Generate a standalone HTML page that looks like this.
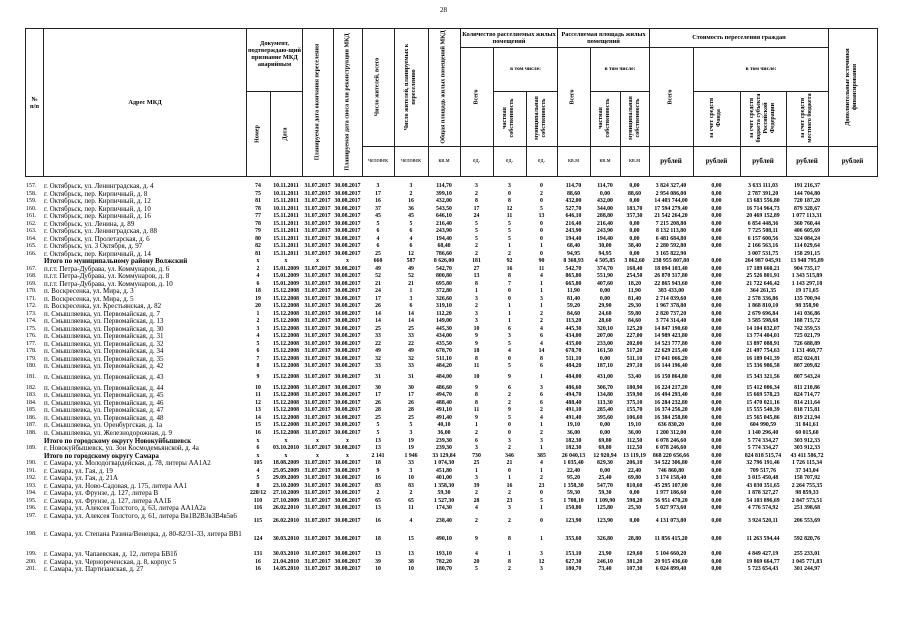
<!DOCTYPE html>
<html><head><meta charset="utf-8">
<style>
body{margin:0;background:#fff;}
#p{position:relative;width:905px;height:640px;overflow:hidden;background:#fff;font-family:"Liberation Serif",serif;color:#000;}
.r{position:absolute;left:0;width:905px;height:8px;font-size:5.8px;line-height:8px;font-weight:bold;}
.r span{position:absolute;top:0;text-align:center;white-space:nowrap;}
.r .n{left:26px;width:18px;text-align:left;font-size:6px;font-weight:normal;}
.r .a{left:44px;width:200px;text-align:left;font-size:7px;font-weight:normal;}
.r .t{left:44px;width:200px;text-align:left;font-size:7px;font-weight:bold;}
.c1{left:246px;width:24px}.c2{left:270px;width:32px}.c3{left:302px;width:31px}.c4{left:333px;width:29px}
.c5{left:362px;width:32px}.c6{left:394px;width:34px}.c7{left:428px;width:32px}.c8{left:460px;width:33px}
.c9{left:493px;width:33px}.c10{left:526px;width:31px}.c11{left:557px;width:33px}.c12{left:590px;width:30px}
.c13{left:620px;width:29px}.c14{left:649px;width:44px}.c15{left:693px;width:47px}.c16{left:740px;width:46px}.c17{left:786px;width:42px}
.b{font-weight:bold}
.h{position:absolute;font-size:6.3px;font-weight:bold;text-align:center;line-height:7px;}
.v{position:absolute;transform:translate(-50%,-50%) rotate(-90deg);font-size:6px;font-weight:bold;text-align:center;line-height:7px;}
.u{position:absolute;font-size:6px;text-align:center;line-height:8px;}
</style></head><body><div id="p">
<div style="position:absolute;left:440px;top:6px;font-size:7px;">28</div>
<svg width="905" height="640" style="position:absolute;left:0;top:0" stroke="#222" stroke-width="1">
<rect x="25.5" y="28.5" width="852" height="148" fill="none"/>
<g>
<line x1="43.5" y1="28" x2="43.5" y2="177"/><line x1="246.5" y1="28" x2="246.5" y2="177"/>
<line x1="302.5" y1="28" x2="302.5" y2="177"/><line x1="333.5" y1="28" x2="333.5" y2="177"/>
<line x1="362.5" y1="28" x2="362.5" y2="177"/><line x1="394.5" y1="28" x2="394.5" y2="177"/>
<line x1="428.5" y1="28" x2="428.5" y2="177"/><line x1="460.5" y1="28" x2="460.5" y2="177"/>
<line x1="557.5" y1="28" x2="557.5" y2="177"/><line x1="649.5" y1="28" x2="649.5" y2="177"/>
<line x1="828.5" y1="28" x2="828.5" y2="177"/>
<line x1="270.5" y1="91" x2="270.5" y2="177"/><line x1="246" y1="91.5" x2="302" y2="91.5"/>
<line x1="460" y1="47.5" x2="828" y2="47.5"/>
<line x1="493.5" y1="47" x2="493.5" y2="177"/><line x1="526.5" y1="91" x2="526.5" y2="177"/>
<line x1="590.5" y1="47" x2="590.5" y2="177"/><line x1="620.5" y1="91" x2="620.5" y2="177"/>
<line x1="693.5" y1="47" x2="693.5" y2="177"/><line x1="740.5" y1="91" x2="740.5" y2="177"/>
<line x1="786.5" y1="91" x2="786.5" y2="177"/>
<line x1="493" y1="91.5" x2="557" y2="91.5"/><line x1="590" y1="91.5" x2="649" y2="91.5"/><line x1="693" y1="91.5" x2="828" y2="91.5"/>
<line x1="362" y1="146.5" x2="877" y2="146.5"/>
</g></svg>
<div class="h" style="left:26px;top:96px;width:17px;">№<br>п/п</div>
<div class="h" style="left:44px;top:99px;width:202px;">Адрес МКД</div>
<div class="h" style="left:247px;top:40px;width:55px;">Документ, подтверждаю-щий признание МКД аварийным</div>
<div class="v" style="left:258px;top:134px;width:80px;">Номер</div>
<div class="v" style="left:286px;top:134px;width:80px;">Дата</div>
<div class="v" style="left:318px;top:102px;width:144px;">Планируемая дата окончания переселения</div>
<div class="v" style="left:348px;top:102px;width:144px;">Планируемая дата сноса или реконструкции МКД</div>
<div class="v" style="left:378px;top:87px;width:114px;">Число жителей, всего</div>
<div class="v" style="left:411px;top:87px;width:114px;">Число жителей, планируемых к переселению</div>
<div class="v" style="left:444px;top:87px;width:114px;">Общая площадь жилых помещений МКД</div>
<div class="h" style="left:461px;top:31px;width:96px;">Количество расселяемых жилых помещений</div>
<div class="h" style="left:558px;top:31px;width:91px;">Расселяемая площадь жилых помещений</div>
<div class="h" style="left:650px;top:34px;width:178px;">Стоимость переселения граждан</div>
<div class="v" style="left:477px;top:97px;width:95px;">Всего</div>
<div class="v" style="left:573px;top:97px;width:95px;">Всего</div>
<div class="v" style="left:671px;top:97px;width:95px;">Всего</div>
<div class="h" style="left:494px;top:66px;width:63px;font-size:5.5px;">в том числе:</div>
<div class="h" style="left:591px;top:66px;width:58px;font-size:5.5px;">в том числе:</div>
<div class="h" style="left:694px;top:66px;width:134px;font-size:5.5px;">в том числе:</div>
<div class="v" style="left:509px;top:118px;width:52px;">частная собственность</div>
<div class="v" style="left:541px;top:118px;width:52px;">муниципальная собственность</div>
<div class="v" style="left:605px;top:118px;width:52px;">частная собственность</div>
<div class="v" style="left:635px;top:118px;width:52px;">муниципальная собственность</div>
<div class="v" style="left:716px;top:118px;width:52px;">за счет средств Фонда</div>
<div class="v" style="left:763px;top:118px;width:52px;">за счет средств бюджета субъекта Российской Федерации</div>
<div class="v" style="left:807px;top:118px;width:52px;">за счет средств местного бюджета</div>
<div class="v" style="left:852px;top:87px;width:114px;">Дополнительные источники финансирования</div>
<div class="u" style="left:362px;top:157px;width:32px;">человек</div>
<div class="u" style="left:394px;top:157px;width:34px;">человек</div>
<div class="u" style="left:428px;top:157px;width:32px;">кв.м</div>
<div class="u" style="left:460px;top:157px;width:33px;">ед.</div>
<div class="u" style="left:493px;top:157px;width:33px;">ед.</div>
<div class="u" style="left:526px;top:157px;width:31px;">ед.</div>
<div class="u" style="left:557px;top:157px;width:33px;">кв.м</div>
<div class="u" style="left:590px;top:157px;width:30px;">кв.м</div>
<div class="u" style="left:620px;top:157px;width:29px;">кв.м</div>
<div class="u" style="left:649px;top:157px;width:44px;font-size:7px;font-weight:bold;">рублей</div>
<div class="u" style="left:693px;top:157px;width:47px;font-size:7px;font-weight:bold;">рублей</div>
<div class="u" style="left:740px;top:157px;width:46px;font-size:7px;font-weight:bold;">рублей</div>
<div class="u" style="left:786px;top:157px;width:42px;font-size:7px;font-weight:bold;">рублей</div>
<div class="u" style="left:828px;top:157px;width:49px;font-size:7px;font-weight:bold;">рублей</div>

<div class="r" style="top:182px"><span class="n">157.</span><span class="a">г. Октябрьск, ул. Ленинградская, д. 4</span><span class="c1">74</span><span class="c2">10.11.2011</span><span class="c3">31.07.2017</span><span class="c4">30.08.2017</span><span class="c5">3</span><span class="c6">3</span><span class="c7">114,70</span><span class="c8">3</span><span class="c9">3</span><span class="c10">0</span><span class="c11">114,70</span><span class="c12">114,70</span><span class="c13">0,00</span><span class="c14">3 824 327,40</span><span class="c15">0,00</span><span class="c16">3 633 111,03</span><span class="c17">191 216,37</span></div>
<div class="r" style="top:189.5px"><span class="n">158.</span><span class="a">г. Октябрьск, пер. Кирпичный, д. 8</span><span class="c1">75</span><span class="c2">10.11.2011</span><span class="c3">31.07.2017</span><span class="c4">30.08.2017</span><span class="c5">17</span><span class="c6">2</span><span class="c7">399,10</span><span class="c8">2</span><span class="c9">0</span><span class="c10">2</span><span class="c11">88,60</span><span class="c12">0,00</span><span class="c13">88,60</span><span class="c14">2 954 086,00</span><span class="c15">0,00</span><span class="c16">2 787 391,20</span><span class="c17">144 704,80</span></div>
<div class="r" style="top:197px"><span class="n">159.</span><span class="a">г. Октябрьск, пер. Кирпичный, д. 12</span><span class="c1">81</span><span class="c2">15.11.2011</span><span class="c3">31.07.2017</span><span class="c4">30.08.2017</span><span class="c5">16</span><span class="c6">16</span><span class="c7">432,00</span><span class="c8">8</span><span class="c9">8</span><span class="c10">0</span><span class="c11">432,00</span><span class="c12">432,00</span><span class="c13">0,00</span><span class="c14">14 403 744,00</span><span class="c15">0,00</span><span class="c16">13 683 556,80</span><span class="c17">720 187,20</span></div>
<div class="r" style="top:204.5px"><span class="n">160.</span><span class="a">г. Октябрьск, пер. Кирпичный, д. 10</span><span class="c1">78</span><span class="c2">10.11.2011</span><span class="c3">31.07.2017</span><span class="c4">30.08.2017</span><span class="c5">37</span><span class="c6">36</span><span class="c7">543,50</span><span class="c8">17</span><span class="c9">12</span><span class="c10">5</span><span class="c11">527,70</span><span class="c12">344,00</span><span class="c13">183,70</span><span class="c14">17 594 279,40</span><span class="c15">0,00</span><span class="c16">16 714 964,73</span><span class="c17">879 328,67</span></div>
<div class="r" style="top:212px"><span class="n">161.</span><span class="a">г. Октябрьск, пер. Кирпичный, д. 16</span><span class="c1">77</span><span class="c2">15.11.2011</span><span class="c3">31.07.2017</span><span class="c4">30.08.2017</span><span class="c5">45</span><span class="c6">45</span><span class="c7">646,10</span><span class="c8">24</span><span class="c9">11</span><span class="c10">13</span><span class="c11">646,10</span><span class="c12">288,80</span><span class="c13">357,30</span><span class="c14">21 542 264,20</span><span class="c15">0,00</span><span class="c16">20 469 152,89</span><span class="c17">1 077 113,31</span></div>
<div class="r" style="top:219.5px"><span class="n">162.</span><span class="a">г. Октябрьск, ул. Ленина, д. 89</span><span class="c1">78</span><span class="c2">15.11.2011</span><span class="c3">31.07.2017</span><span class="c4">30.08.2017</span><span class="c5">5</span><span class="c6">5</span><span class="c7">216,40</span><span class="c8">5</span><span class="c9">5</span><span class="c10">0</span><span class="c11">216,40</span><span class="c12">216,40</span><span class="c13">0,00</span><span class="c14">7 215 208,80</span><span class="c15">0,00</span><span class="c16">6 854 448,36</span><span class="c17">360 760,44</span></div>
<div class="r" style="top:227px"><span class="n">163.</span><span class="a">г. Октябрьск, ул. Ленинградская, д. 88</span><span class="c1">79</span><span class="c2">15.11.2011</span><span class="c3">31.07.2017</span><span class="c4">30.08.2017</span><span class="c5">6</span><span class="c6">6</span><span class="c7">243,90</span><span class="c8">5</span><span class="c9">5</span><span class="c10">0</span><span class="c11">243,90</span><span class="c12">243,90</span><span class="c13">0,00</span><span class="c14">8 132 113,80</span><span class="c15">0,00</span><span class="c16">7 725 508,11</span><span class="c17">406 605,69</span></div>
<div class="r" style="top:234.5px"><span class="n">164.</span><span class="a">г. Октябрьск, ул. Пролетарская, д. 6</span><span class="c1">80</span><span class="c2">15.11.2011</span><span class="c3">31.07.2017</span><span class="c4">30.08.2017</span><span class="c5">4</span><span class="c6">4</span><span class="c7">194,40</span><span class="c8">5</span><span class="c9">5</span><span class="c10">0</span><span class="c11">194,40</span><span class="c12">194,40</span><span class="c13">0,00</span><span class="c14">6 481 684,80</span><span class="c15">0,00</span><span class="c16">6 157 600,56</span><span class="c17">324 084,24</span></div>
<div class="r" style="top:242px"><span class="n">165.</span><span class="a">г. Октябрьск, ул. 3 Октября, д. 97</span><span class="c1">82</span><span class="c2">15.11.2011</span><span class="c3">31.07.2017</span><span class="c4">30.08.2017</span><span class="c5">6</span><span class="c6">6</span><span class="c7">68,40</span><span class="c8">2</span><span class="c9">1</span><span class="c10">1</span><span class="c11">68,40</span><span class="c12">30,00</span><span class="c13">38,40</span><span class="c14">2 280 592,80</span><span class="c15">0,00</span><span class="c16">2 166 563,16</span><span class="c17">114 029,64</span></div>
<div class="r" style="top:249.5px"><span class="n">166.</span><span class="a">г. Октябрьск, пер. Кирпичный, д. 14</span><span class="c1">81</span><span class="c2">15.11.2011</span><span class="c3">31.07.2017</span><span class="c4">30.08.2017</span><span class="c5">25</span><span class="c6">12</span><span class="c7">786,60</span><span class="c8">2</span><span class="c9">2</span><span class="c10">0</span><span class="c11">94,95</span><span class="c12">94,95</span><span class="c13">0,00</span><span class="c14">3 165 822,90</span><span class="c16">3 007 531,75</span><span class="c17">158 291,15</span></div>
<div class="r b" style="top:257px"><span class="t">Итого по муниципальному району Волжский</span><span class="c1">x</span><span class="c2">x</span><span class="c3">x</span><span class="c4">x</span><span class="c5">660</span><span class="c6">587</span><span class="c7">8 626,00</span><span class="c8">181</span><span class="c9">92</span><span class="c10">90</span><span class="c11">8 368,93</span><span class="c12">4 505,85</span><span class="c13">3 862,60</span><span class="c14">238 955 807,80</span><span class="c15">0,00</span><span class="c16">264 987 045,91</span><span class="c17">13 948 795,89</span></div>
<div class="r" style="top:264.5px"><span class="n">167.</span><span class="a">п.г.т. Петра-Дубрава, ул. Коммунаров, д. 6</span><span class="c1">2</span><span class="c2">15.01.2009</span><span class="c3">31.07.2017</span><span class="c4">30.08.2017</span><span class="c5">49</span><span class="c6">49</span><span class="c7">542,70</span><span class="c8">27</span><span class="c9">16</span><span class="c10">11</span><span class="c11">542,70</span><span class="c12">374,70</span><span class="c13">168,40</span><span class="c14">18 094 103,40</span><span class="c15">0,00</span><span class="c16">17 189 660,21</span><span class="c17">904 735,17</span></div>
<div class="r" style="top:272px"><span class="n">168.</span><span class="a">п.г.т. Петра-Дубрава, ул. Коммунаров, д. 8</span><span class="c1">4</span><span class="c2">15.01.2009</span><span class="c3">31.07.2017</span><span class="c4">30.08.2017</span><span class="c5">52</span><span class="c6">52</span><span class="c7">800,80</span><span class="c8">13</span><span class="c9">8</span><span class="c10">4</span><span class="c11">865,80</span><span class="c12">551,90</span><span class="c13">254,50</span><span class="c14">26 870 317,80</span><span class="c15">0,00</span><span class="c16">25 526 801,91</span><span class="c17">1 343 515,89</span></div>
<div class="r" style="top:279.5px"><span class="n">169.</span><span class="a">п.г.т. Петра-Дубрава, ул. Коммунаров, д. 10</span><span class="c1">6</span><span class="c2">15.01.2009</span><span class="c3">31.07.2017</span><span class="c4">30.08.2017</span><span class="c5">21</span><span class="c6">21</span><span class="c7">695,80</span><span class="c8">8</span><span class="c9">7</span><span class="c10">1</span><span class="c11">665,80</span><span class="c12">407,60</span><span class="c13">18,20</span><span class="c14">22 865 943,60</span><span class="c15">0,00</span><span class="c16">21 722 646,42</span><span class="c17">1 143 297,18</span></div>
<div class="r" style="top:287px"><span class="n">170.</span><span class="a">п. Воскресенка, ул. Мира, д. 3</span><span class="c1">18</span><span class="c2">15.12.2008</span><span class="c3">31.07.2017</span><span class="c4">30.08.2017</span><span class="c5">24</span><span class="c6">1</span><span class="c7">372,80</span><span class="c8">1</span><span class="c9">0</span><span class="c10">1</span><span class="c11">11,90</span><span class="c12">0,00</span><span class="c13">11,90</span><span class="c14">383 433,00</span><span class="c15">0,00</span><span class="c16">364 261,35</span><span class="c17">19 171,65</span></div>
<div class="r" style="top:294.5px"><span class="n">171.</span><span class="a">п. Воскресенка, ул. Мира, д. 5</span><span class="c1">19</span><span class="c2">15.12.2008</span><span class="c3">31.07.2017</span><span class="c4">30.08.2017</span><span class="c5">17</span><span class="c6">3</span><span class="c7">326,60</span><span class="c8">3</span><span class="c9">0</span><span class="c10">3</span><span class="c11">81,40</span><span class="c12">0,00</span><span class="c13">81,40</span><span class="c14">2 714 039,60</span><span class="c15">0,00</span><span class="c16">2 578 336,86</span><span class="c17">135 700,94</span></div>
<div class="r" style="top:302px"><span class="n">172.</span><span class="a">п. Воскресенка, ул. Крестьянская, д. 82</span><span class="c1">20</span><span class="c2">15.12.2008</span><span class="c3">31.07.2017</span><span class="c4">30.08.2017</span><span class="c5">26</span><span class="c6">6</span><span class="c7">319,10</span><span class="c8">2</span><span class="c9">1</span><span class="c10">1</span><span class="c11">59,20</span><span class="c12">29,90</span><span class="c13">29,30</span><span class="c14">1 967 378,80</span><span class="c15">0,00</span><span class="c16">1 868 810,10</span><span class="c17">98 358,90</span></div>
<div class="r" style="top:309.5px"><span class="n">173.</span><span class="a">п. Смышляевка, ул. Первомайская, д. 7</span><span class="c1">1</span><span class="c2">15.12.2008</span><span class="c3">31.07.2017</span><span class="c4">30.08.2017</span><span class="c5">14</span><span class="c6">14</span><span class="c7">112,20</span><span class="c8">3</span><span class="c9">1</span><span class="c10">2</span><span class="c11">84,60</span><span class="c12">24,60</span><span class="c13">59,80</span><span class="c14">2 820 737,20</span><span class="c15">0,00</span><span class="c16">2 679 696,84</span><span class="c17">141 036,86</span></div>
<div class="r" style="top:317px"><span class="n">174.</span><span class="a">п. Смышляевка, ул. Первомайская, д. 13</span><span class="c1">2</span><span class="c2">15.12.2008</span><span class="c3">31.07.2017</span><span class="c4">30.08.2017</span><span class="c5">14</span><span class="c6">14</span><span class="c7">149,00</span><span class="c8">3</span><span class="c9">1</span><span class="c10">2</span><span class="c11">113,20</span><span class="c12">28,60</span><span class="c13">84,60</span><span class="c14">3 774 314,40</span><span class="c15">0,00</span><span class="c16">3 585 598,68</span><span class="c17">188 715,72</span></div>
<div class="r" style="top:324.5px"><span class="n">175.</span><span class="a">п. Смышляевка, ул. Первомайская, д. 30</span><span class="c1">3</span><span class="c2">15.12.2008</span><span class="c3">31.07.2017</span><span class="c4">30.08.2017</span><span class="c5">25</span><span class="c6">25</span><span class="c7">445,30</span><span class="c8">10</span><span class="c9">6</span><span class="c10">4</span><span class="c11">445,30</span><span class="c12">320,10</span><span class="c13">125,20</span><span class="c14">14 847 190,60</span><span class="c15">0,00</span><span class="c16">14 104 832,07</span><span class="c17">742 359,53</span></div>
<div class="r" style="top:332px"><span class="n">176.</span><span class="a">п. Смышляевка, ул. Первомайская, д. 31</span><span class="c1">4</span><span class="c2">15.12.2008</span><span class="c3">31.07.2017</span><span class="c4">30.08.2017</span><span class="c5">33</span><span class="c6">33</span><span class="c7">434,00</span><span class="c8">9</span><span class="c9">3</span><span class="c10">6</span><span class="c11">434,00</span><span class="c12">207,00</span><span class="c13">227,00</span><span class="c14">14 989 423,80</span><span class="c15">0,00</span><span class="c16">13 774 404,01</span><span class="c17">725 021,79</span></div>
<div class="r" style="top:339.5px"><span class="n">177.</span><span class="a">п. Смышляевка, ул. Первомайская, д. 32</span><span class="c1">5</span><span class="c2">15.12.2008</span><span class="c3">31.07.2017</span><span class="c4">30.08.2017</span><span class="c5">22</span><span class="c6">22</span><span class="c7">435,50</span><span class="c8">9</span><span class="c9">5</span><span class="c10">4</span><span class="c11">435,00</span><span class="c12">233,00</span><span class="c13">202,00</span><span class="c14">14 523 777,80</span><span class="c15">0,00</span><span class="c16">13 897 088,91</span><span class="c17">726 688,89</span></div>
<div class="r" style="top:347px"><span class="n">178.</span><span class="a">п. Смышляевка, ул. Первомайская, д. 34</span><span class="c1">6</span><span class="c2">15.12.2008</span><span class="c3">31.07.2017</span><span class="c4">30.08.2017</span><span class="c5">49</span><span class="c6">49</span><span class="c7">678,70</span><span class="c8">18</span><span class="c9">4</span><span class="c10">14</span><span class="c11">678,70</span><span class="c12">161,50</span><span class="c13">517,20</span><span class="c14">22 629 215,40</span><span class="c15">0,00</span><span class="c16">21 497 754,63</span><span class="c17">1 131 460,77</span></div>
<div class="r" style="top:354.5px"><span class="n">179.</span><span class="a">п. Смышляевка, ул. Первомайская, д. 35</span><span class="c1">7</span><span class="c2">15.12.2008</span><span class="c3">31.07.2017</span><span class="c4">30.08.2017</span><span class="c5">32</span><span class="c6">32</span><span class="c7">511,10</span><span class="c8">8</span><span class="c9">0</span><span class="c10">8</span><span class="c11">511,10</span><span class="c12">0,00</span><span class="c13">511,10</span><span class="c14">17 041 066,20</span><span class="c15">0,00</span><span class="c16">16 189 041,39</span><span class="c17">852 024,81</span></div>
<div class="r" style="top:362px"><span class="n">180.</span><span class="a">п. Смышляевка, ул. Первомайская, д. 42</span><span class="c1">8</span><span class="c2">15.12.2008</span><span class="c3">31.07.2017</span><span class="c4">30.08.2017</span><span class="c5">33</span><span class="c6">33</span><span class="c7">484,20</span><span class="c8">11</span><span class="c9">5</span><span class="c10">6</span><span class="c11">484,20</span><span class="c12">187,10</span><span class="c13">297,10</span><span class="c14">16 144 196,40</span><span class="c15">0,00</span><span class="c16">15 336 986,58</span><span class="c17">807 209,82</span></div>
<div class="r" style="top:372.5px"><span class="n">181.</span><span class="a">п. Смышляевка, ул. Первомайская, д. 43</span><span class="c1">9</span><span class="c2">15.12.2008</span><span class="c3">31.07.2017</span><span class="c4">30.08.2017</span><span class="c5">31</span><span class="c6">31</span><span class="c7">484,00</span><span class="c8">10</span><span class="c9">9</span><span class="c10">1</span><span class="c11">484,00</span><span class="c12">431,00</span><span class="c13">53,40</span><span class="c14">16 150 864,80</span><span class="c15">0,00</span><span class="c16">15 343 321,56</span><span class="c17">807 543,24</span></div>
<div class="r" style="top:383.5px"><span class="n">182.</span><span class="a">п. Смышляевка, ул. Первомайская, д. 44</span><span class="c1">10</span><span class="c2">15.12.2008</span><span class="c3">31.07.2017</span><span class="c4">30.08.2017</span><span class="c5">30</span><span class="c6">30</span><span class="c7">486,60</span><span class="c8">9</span><span class="c9">6</span><span class="c10">3</span><span class="c11">486,60</span><span class="c12">306,70</span><span class="c13">180,90</span><span class="c14">16 224 217,20</span><span class="c15">0,00</span><span class="c16">15 412 006,34</span><span class="c17">811 210,86</span></div>
<div class="r" style="top:391px"><span class="n">183.</span><span class="a">п. Смышляевка, ул. Первомайская, д. 45</span><span class="c1">11</span><span class="c2">15.12.2008</span><span class="c3">31.07.2017</span><span class="c4">30.08.2017</span><span class="c5">17</span><span class="c6">17</span><span class="c7">494,70</span><span class="c8">8</span><span class="c9">2</span><span class="c10">6</span><span class="c11">494,70</span><span class="c12">134,80</span><span class="c13">359,90</span><span class="c14">16 494 293,40</span><span class="c15">0,00</span><span class="c16">15 669 578,23</span><span class="c17">824 714,77</span></div>
<div class="r" style="top:398.5px"><span class="n">184.</span><span class="a">п. Смышляевка, ул. Первомайская, д. 46</span><span class="c1">12</span><span class="c2">15.12.2008</span><span class="c3">31.07.2017</span><span class="c4">30.08.2017</span><span class="c5">26</span><span class="c6">26</span><span class="c7">488,40</span><span class="c8">8</span><span class="c9">2</span><span class="c10">6</span><span class="c11">488,40</span><span class="c12">113,30</span><span class="c13">375,10</span><span class="c14">16 284 232,80</span><span class="c15">0,00</span><span class="c16">15 470 021,16</span><span class="c17">814 211,64</span></div>
<div class="r" style="top:406px"><span class="n">185.</span><span class="a">п. Смышляевка, ул. Первомайская, д. 47</span><span class="c1">13</span><span class="c2">15.12.2008</span><span class="c3">31.07.2017</span><span class="c4">30.08.2017</span><span class="c5">28</span><span class="c6">28</span><span class="c7">491,10</span><span class="c8">11</span><span class="c9">9</span><span class="c10">2</span><span class="c11">491,10</span><span class="c12">285,40</span><span class="c13">155,70</span><span class="c14">16 374 256,20</span><span class="c15">0,00</span><span class="c16">15 555 540,39</span><span class="c17">818 715,81</span></div>
<div class="r" style="top:413.5px"><span class="n">186.</span><span class="a">п. Смышляевка, ул. Первомайская, д. 48</span><span class="c1">14</span><span class="c2">15.12.2008</span><span class="c3">31.07.2017</span><span class="c4">30.08.2017</span><span class="c5">25</span><span class="c6">25</span><span class="c7">491,40</span><span class="c8">9</span><span class="c9">5</span><span class="c10">4</span><span class="c11">491,40</span><span class="c12">395,60</span><span class="c13">106,60</span><span class="c14">16 384 258,80</span><span class="c15">0,00</span><span class="c16">15 565 045,86</span><span class="c17">819 212,94</span></div>
<div class="r" style="top:421px"><span class="n">187.</span><span class="a">п. Смышляевка, ул. Оренбургская, д. 1а</span><span class="c1">15</span><span class="c2">15.12.2008</span><span class="c3">31.07.2017</span><span class="c4">30.08.2017</span><span class="c5">5</span><span class="c6">5</span><span class="c7">40,10</span><span class="c8">1</span><span class="c9">0</span><span class="c10">1</span><span class="c11">19,10</span><span class="c12">0,00</span><span class="c13">19,10</span><span class="c14">636 830,20</span><span class="c15">0,00</span><span class="c16">604 990,59</span><span class="c17">31 841,61</span></div>
<div class="r" style="top:428.5px"><span class="n">188.</span><span class="a">п. Смышляевка, ул. Железнодорожная, д. 9</span><span class="c1">16</span><span class="c2">15.12.2008</span><span class="c3">31.07.2017</span><span class="c4">30.08.2017</span><span class="c5">5</span><span class="c6">3</span><span class="c7">36,00</span><span class="c8">2</span><span class="c9">0</span><span class="c10">2</span><span class="c11">36,00</span><span class="c12">0,00</span><span class="c13">36,00</span><span class="c14">1 200 312,00</span><span class="c15">0,00</span><span class="c16">1 140 296,40</span><span class="c17">60 015,60</span></div>
<div class="r b" style="top:436.5px"><span class="t">Итого по городскому округу Новокуйбышевск</span><span class="c1">x</span><span class="c2">x</span><span class="c3">x</span><span class="c4">x</span><span class="c5">13</span><span class="c6">19</span><span class="c7">239,30</span><span class="c8">6</span><span class="c9">3</span><span class="c10">3</span><span class="c11">182,30</span><span class="c12">69,80</span><span class="c13">112,50</span><span class="c14">6 078 246,60</span><span class="c15">0,00</span><span class="c16">5 774 334,27</span><span class="c17">303 912,33</span></div>
<div class="r" style="top:444px"><span class="n">189.</span><span class="a">г. Новокуйбышевск, ул. Зои Космодемьянской, д. 4а</span><span class="c1">6</span><span class="c2">03.10.2010</span><span class="c3">31.07.2017</span><span class="c4">30.08.2017</span><span class="c5">13</span><span class="c6">19</span><span class="c7">239,30</span><span class="c8">3</span><span class="c9">2</span><span class="c10">1</span><span class="c11">182,30</span><span class="c12">69,80</span><span class="c13">112,50</span><span class="c14">6 078 246,60</span><span class="c15">0,00</span><span class="c16">5 774 334,27</span><span class="c17">303 912,33</span></div>
<div class="r b" style="top:451.5px"><span class="t">Итого по городскому округу Самара</span><span class="c1">x</span><span class="c2">x</span><span class="c3">x</span><span class="c4">x</span><span class="c5">2 141</span><span class="c6">1 946</span><span class="c7">33 129,84</span><span class="c8">730</span><span class="c9">346</span><span class="c10">385</span><span class="c11">26 040,13</span><span class="c12">12 920,94</span><span class="c13">13 119,19</span><span class="c14">868 220 656,66</span><span class="c15">0,00</span><span class="c16">824 818 515,74</span><span class="c17">43 411 586,72</span></div>
<div class="r" style="top:459px"><span class="n">190.</span><span class="a">г. Самара, ул. Молодогвардейская, д. 78, литеры АА1А2</span><span class="c1">105</span><span class="c2">18.08.2009</span><span class="c3">31.07.2017</span><span class="c4">30.08.2017</span><span class="c5">18</span><span class="c6">33</span><span class="c7">1 074,30</span><span class="c8">25</span><span class="c9">21</span><span class="c10">4</span><span class="c11">1 035,40</span><span class="c12">829,30</span><span class="c13">206,10</span><span class="c14">34 522 306,80</span><span class="c15">0,00</span><span class="c16">32 796 191,46</span><span class="c17">1 726 115,34</span></div>
<div class="r" style="top:466.5px"><span class="n">191.</span><span class="a">г. Самара, ул. Гая, д. 19</span><span class="c1">4</span><span class="c2">25.05.2009</span><span class="c3">31.07.2017</span><span class="c4">30.08.2017</span><span class="c5">9</span><span class="c6">3</span><span class="c7">451,80</span><span class="c8">1</span><span class="c9">0</span><span class="c10">1</span><span class="c11">22,40</span><span class="c12">0,00</span><span class="c13">22,40</span><span class="c14">746 860,80</span><span class="c15">0,00</span><span class="c16">709 517,76</span><span class="c17">37 343,04</span></div>
<div class="r" style="top:474px"><span class="n">192.</span><span class="a">г. Самара, ул. Гая, д. 21А</span><span class="c1">5</span><span class="c2">29.09.2009</span><span class="c3">31.07.2017</span><span class="c4">30.08.2017</span><span class="c5">16</span><span class="c6">10</span><span class="c7">401,00</span><span class="c8">3</span><span class="c9">1</span><span class="c10">2</span><span class="c11">95,20</span><span class="c12">25,40</span><span class="c13">69,80</span><span class="c14">3 174 158,40</span><span class="c15">0,00</span><span class="c16">3 015 450,48</span><span class="c17">158 707,92</span></div>
<div class="r" style="top:481.5px"><span class="n">193.</span><span class="a">г. Самара, ул. Ново-Садовая, д. 175, литера АА1</span><span class="c1">8</span><span class="c2">23.10.2009</span><span class="c3">31.07.2017</span><span class="c4">30.08.2017</span><span class="c5">83</span><span class="c6">83</span><span class="c7">1 358,30</span><span class="c8">39</span><span class="c9">16</span><span class="c10">23</span><span class="c11">1 358,30</span><span class="c12">547,70</span><span class="c13">810,60</span><span class="c14">45 295 107,00</span><span class="c15">0,00</span><span class="c16">43 030 351,65</span><span class="c17">2 264 755,35</span></div>
<div class="r" style="top:489px"><span class="n">194.</span><span class="a">г. Самара, ул. Фрунзе, д. 127, литера В</span><span class="c1">220/12</span><span class="c2">27.10.2009</span><span class="c3">31.07.2017</span><span class="c4">30.08.2017</span><span class="c5">2</span><span class="c6">2</span><span class="c7">59,30</span><span class="c8">2</span><span class="c9">2</span><span class="c10">0</span><span class="c11">59,30</span><span class="c12">59,30</span><span class="c13">0,00</span><span class="c14">1 977 186,60</span><span class="c15">0,00</span><span class="c16">1 878 327,27</span><span class="c17">98 859,33</span></div>
<div class="r" style="top:496.5px"><span class="n">195.</span><span class="a">г. Самара, ул. Фрунзе, д. 127, литера АА1Б</span><span class="c1">110</span><span class="c2">27.10.2009</span><span class="c3">31.07.2017</span><span class="c4">30.08.2017</span><span class="c5">65</span><span class="c6">65</span><span class="c7">1 527,30</span><span class="c8">28</span><span class="c9">23</span><span class="c10">5</span><span class="c11">1 708,10</span><span class="c12">1 109,90</span><span class="c13">598,20</span><span class="c14">56 951 470,20</span><span class="c15">0,00</span><span class="c16">54 103 896,69</span><span class="c17">2 847 573,51</span></div>
<div class="r" style="top:504px"><span class="n">196.</span><span class="a">г. Самара, ул. Алексея Толстого, д. 63, литера АА1А2а</span><span class="c1">116</span><span class="c2">26.02.2010</span><span class="c3">31.07.2017</span><span class="c4">30.08.2017</span><span class="c5">13</span><span class="c6">11</span><span class="c7">174,30</span><span class="c8">4</span><span class="c9">3</span><span class="c10">1</span><span class="c11">150,80</span><span class="c12">125,80</span><span class="c13">25,30</span><span class="c14">5 027 973,60</span><span class="c15">0,00</span><span class="c16">4 776 574,92</span><span class="c17">251 398,68</span></div>
<div class="r" style="top:511.5px"><span class="n">197.</span><span class="a">г. Самара, ул. Алексея Толстого, д. 61, литера Вв1В2В3в3В4в5в6</span></div>
<div class="r" style="top:516.5px"><span class="c1">115</span><span class="c2">26.02.2010</span><span class="c3">31.07.2017</span><span class="c4">30.08.2017</span><span class="c5">16</span><span class="c6">4</span><span class="c7">238,40</span><span class="c8">2</span><span class="c9">2</span><span class="c10">0</span><span class="c11">123,90</span><span class="c12">123,90</span><span class="c13">0,00</span><span class="c14">4 131 073,80</span><span class="c15">0,00</span><span class="c16">3 924 520,11</span><span class="c17">206 553,69</span></div>
<div class="r" style="top:530px"><span class="n">198.</span><span class="a">г. Самара, ул. Степана Разина/Венецка, д. 80-82/31-33, литера ВВ1</span></div>
<div class="r" style="top:535px"><span class="c1">124</span><span class="c2">30.03.2010</span><span class="c3">31.07.2017</span><span class="c4">30.08.2017</span><span class="c5">18</span><span class="c6">15</span><span class="c7">490,10</span><span class="c8">9</span><span class="c9">8</span><span class="c10">1</span><span class="c11">355,60</span><span class="c12">326,80</span><span class="c13">28,80</span><span class="c14">11 856 415,20</span><span class="c15">0,00</span><span class="c16">11 263 594,44</span><span class="c17">592 820,76</span></div>
<div class="r" style="top:550px"><span class="n">199.</span><span class="a">г. Самара, ул. Чапаевская, д. 12, литера БВ1б</span><span class="c1">131</span><span class="c2">30.03.2010</span><span class="c3">31.07.2017</span><span class="c4">30.08.2017</span><span class="c5">13</span><span class="c6">13</span><span class="c7">193,10</span><span class="c8">4</span><span class="c9">1</span><span class="c10">3</span><span class="c11">153,10</span><span class="c12">23,90</span><span class="c13">129,60</span><span class="c14">5 104 660,20</span><span class="c15">0,00</span><span class="c16">4 849 427,19</span><span class="c17">255 233,01</span></div>
<div class="r" style="top:557.5px"><span class="n">200.</span><span class="a">г. Самара, ул. Чернореченская, д. 8, корпус 5</span><span class="c1">16</span><span class="c2">21.04.2010</span><span class="c3">31.07.2017</span><span class="c4">30.08.2017</span><span class="c5">39</span><span class="c6">38</span><span class="c7">782,20</span><span class="c8">20</span><span class="c9">8</span><span class="c10">12</span><span class="c11">627,30</span><span class="c12">246,10</span><span class="c13">381,20</span><span class="c14">20 915 436,60</span><span class="c15">0,00</span><span class="c16">19 869 664,77</span><span class="c17">1 045 771,83</span></div>
<div class="r" style="top:565px"><span class="n">201.</span><span class="a">г. Самара, ул. Партизанская, д. 27</span><span class="c1">16</span><span class="c2">14.05.2010</span><span class="c3">31.07.2017</span><span class="c4">30.08.2017</span><span class="c5">10</span><span class="c6">10</span><span class="c7">180,70</span><span class="c8">5</span><span class="c9">2</span><span class="c10">3</span><span class="c11">180,70</span><span class="c12">73,40</span><span class="c13">107,30</span><span class="c14">6 024 899,40</span><span class="c15">0,00</span><span class="c16">5 723 654,43</span><span class="c17">301 244,97</span></div>
</div></body></html>
